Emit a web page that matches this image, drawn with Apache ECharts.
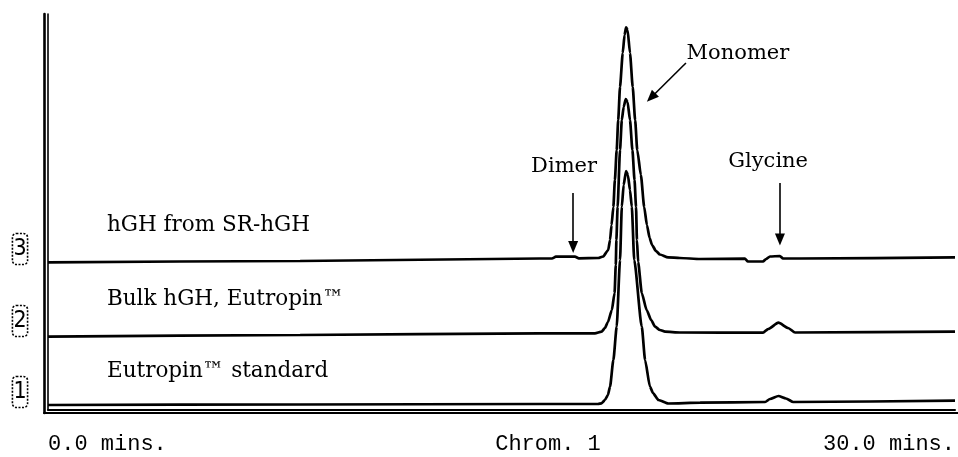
<!DOCTYPE html>
<html>
<head>
<meta charset="utf-8">
<script src="https://cdn.jsdelivr.net/npm/echarts@6/dist/echarts.min.js"></script>
<style>
html,body{margin:0;padding:0;background:#fff;}
#chart{width:958px;height:457px;}
</style>
</head>
<body>
<div id="chart"></div>
<script>
// Retention time (min) and detector signal (arbitrary units, offset traces)
const time3 = [0, 8.34, 16.27, 16.67, 16.80, 17.43, 17.56, 18.20, 18.36, 18.53, 18.59, 18.64, 18.70, 18.75, 18.81, 18.86, 18.92, 19.01, 19.07, 19.12, 19.17, 19.25, 19.34, 19.42, 19.49, 19.61, 19.72, 19.81, 19.90, 19.98, 20.11, 20.24, 20.51, 20.90, 21.57, 23.05, 23.15, 23.65, 23.75, 23.88, 24.21, 24.31, 24.87, 30];
const signal3 = [147.7, 149, 151.5, 151.5, 153.3, 153.3, 151.7, 152, 153.5, 160, 170, 185, 203, 230, 260, 290, 323, 357, 375, 382.7, 380, 357, 323, 290, 260, 235, 203, 185, 172, 165, 159, 155.5, 152.7, 152, 151, 151.3, 148.5, 148.5, 151, 153.5, 154, 151.5, 151.5, 152.7];

const time2 = [0, 8.34, 16.27, 18.09, 18.31, 18.42, 18.52, 18.65, 18.74, 18.78, 18.80, 18.84, 18.92, 18.98, 19.04, 19.11, 19.17, 19.25, 19.33, 19.40, 19.45, 19.48, 19.52, 19.64, 19.80, 19.95, 20.08, 20.24, 20.41, 20.90, 23.65, 23.82, 24.16, 24.48, 24.71, 30];
const signal2 = [73.3, 75, 76.7, 76.7, 78.3, 82, 88, 100, 117, 145, 170, 203, 260, 290, 303, 311, 308, 290, 260, 230, 203, 170, 148, 117, 100, 90, 83.3, 80, 78.3, 77.5, 77.3, 81, 87.3, 82, 77.5, 78.3];

const time1 = [0, 8.34, 16.27, 18.19, 18.31, 18.42, 18.52, 18.59, 18.70, 18.81, 18.92, 18.98, 19.04, 19.12, 19.18, 19.25, 19.31, 19.39, 19.64, 19.75, 19.91, 20.01, 20.19, 20.52, 21.57, 23.72, 23.88, 24.16, 24.41, 24.65, 30];
const signal1 = [5, 5.5, 6, 6, 6.7, 10, 15, 23.3, 50, 83.3, 150, 203.3, 225, 239, 235, 220, 203.3, 150, 83.3, 50, 23.3, 17, 10, 6.5, 7.3, 8, 11, 14, 11.5, 8, 9.3];

const traceNames = ['hGH from SR-hGH', 'Bulk hGH, Eutropin\u2122', 'Eutropin\u2122 standard'];
const traceLabelTime = [1.95, 1.95, 1.95];
const traceLabelSignal = [185, 111, 39];
const traceNumbers = ['3', '2', '1'];

const peakNames = ['Dimer', 'Monomer', 'Glycine'];
const peakLabelTime = [17.07, 22.82, 23.82];
const peakLabelSignal = [243, 356, 248];
const arrowFrom = [[17.37, 217], [21.10, 347], [24.21, 227]];
const arrowTo = [[17.37, 163], [19.95, 312.5], [24.21, 170.5]];

const xTickLabels = {0: '0.0 mins.', 30: '30.0 mins.'};
const xAxisTitle = 'Chrom. 1';

const zip = (a, b) => a.map((v, i) => [v, b[i]]);

const chart = echarts.init(document.getElementById('chart'), null, {renderer: 'canvas'});
const serif = '"DejaVu Serif", "Liberation Serif", serif';
const mono = '"Liberation Mono", "DejaVu Sans Mono", monospace';

const lineSeries = (name, t, s) => ({
  type: 'line', name: name, xAxisIndex: 0, yAxisIndex: 0,
  data: zip(t, s), showSymbol: false, symbol: 'none',
  smooth: 0.2, smoothMonotone: 'x',
  lineStyle: {color: '#000', width: 2.7}, silent: true, z: 3
});

const textLabel = (extra) => Object.assign({
  show: true, formatter: p => p.name, fontFamily: serif, color: '#000',
  opacity: 1, textBorderWidth: 0
}, extra);

const option = {
  animation: false,
  backgroundColor: '#fff',
  grid: [
    {left: 48, right: 3, top: 14, bottom: 47},
    {left: 44, right: 0, top: 14, bottom: 44}
  ],
  xAxis: [
    {type: 'value', gridIndex: 0, min: 0, max: 30, interval: 30,
     axisLine: {show: true, lineStyle: {color: '#000', width: 2}},
     axisTick: {show: false}, splitLine: {show: false},
     axisLabel: {show: true, margin: 23, fontFamily: mono, fontSize: 22, color: '#000',
       alignMinLabel: 'left', alignMaxLabel: 'right',
       formatter: v => xTickLabels[v] || ''}},
    {type: 'value', gridIndex: 1, min: 0, max: 1,
     axisLine: {show: true, lineStyle: {color: '#000', width: 2}},
     axisTick: {show: false}, splitLine: {show: false}, axisLabel: {show: false}}
  ],
  yAxis: [
    {type: 'value', gridIndex: 0, min: 0, max: 396,
     axisLine: {show: true, lineStyle: {color: '#000', width: 1.6}},
     axisTick: {show: false}, splitLine: {show: false}, axisLabel: {show: false}},
    {type: 'value', gridIndex: 1, min: 0, max: 1,
     axisLine: {show: true, lineStyle: {color: '#000', width: 2.6}},
     axisTick: {show: false}, splitLine: {show: false}, axisLabel: {show: false}}
  ],
  series: [
    lineSeries(traceNames[0], time3, signal3),
    lineSeries(traceNames[1], time2, signal2),
    lineSeries(traceNames[2], time1, signal1),
    {
      type: 'scatter', name: 'trace labels', xAxisIndex: 0, yAxisIndex: 0,
      symbolSize: 0, silent: true, itemStyle: {opacity: 1, color: '#000'},
      data: traceNames.map((n, i) => ({value: [traceLabelTime[i], traceLabelSignal[i]], name: n})),
      label: textLabel({position: 'right', distance: 0, fontSize: 21.5})
    },
    {
      type: 'scatter', name: 'peak labels', xAxisIndex: 0, yAxisIndex: 0,
      symbolSize: 0, silent: true, itemStyle: {opacity: 1, color: '#000'},
      data: peakNames.map((n, i) => ({value: [peakLabelTime[i], peakLabelSignal[i]], name: n})),
      label: textLabel({position: 'inside', fontSize: 21}),
      markLine: {
        silent: true, animation: false,
        symbol: ['none', 'triangle'], symbolSize: [10, 12],
        label: {show: false},
        lineStyle: {color: '#000', width: 1.6, type: 'solid', opacity: 1},
        itemStyle: {color: '#000', opacity: 1},
        data: arrowFrom.map((f, i) => [{coord: f}, {coord: arrowTo[i]}])
      }
    }
  ],
  graphic: [
    {type: 'text', x: 548, y: 444, silent: true,
     style: {text: xAxisTitle, align: 'center', verticalAlign: 'middle',
       font: '22px ' + mono, fill: '#000'}}
  ].concat(traceNumbers.map((n, i) => ({
    type: 'text', x: 20, y: [249, 321, 392][i], silent: true,
    style: {text: n, align: 'center', verticalAlign: 'middle',
      font: '23px "DejaVu Sans Condensed", "DejaVu Sans", sans-serif', fill: '#000',
      padding: [4, 1, 4, 1], borderColor: '#000', borderWidth: 1.6, borderRadius: 4,
      borderDash: [2, 1.5]}
  })))
};
chart.setOption(option);
</script>
</body>
</html>
